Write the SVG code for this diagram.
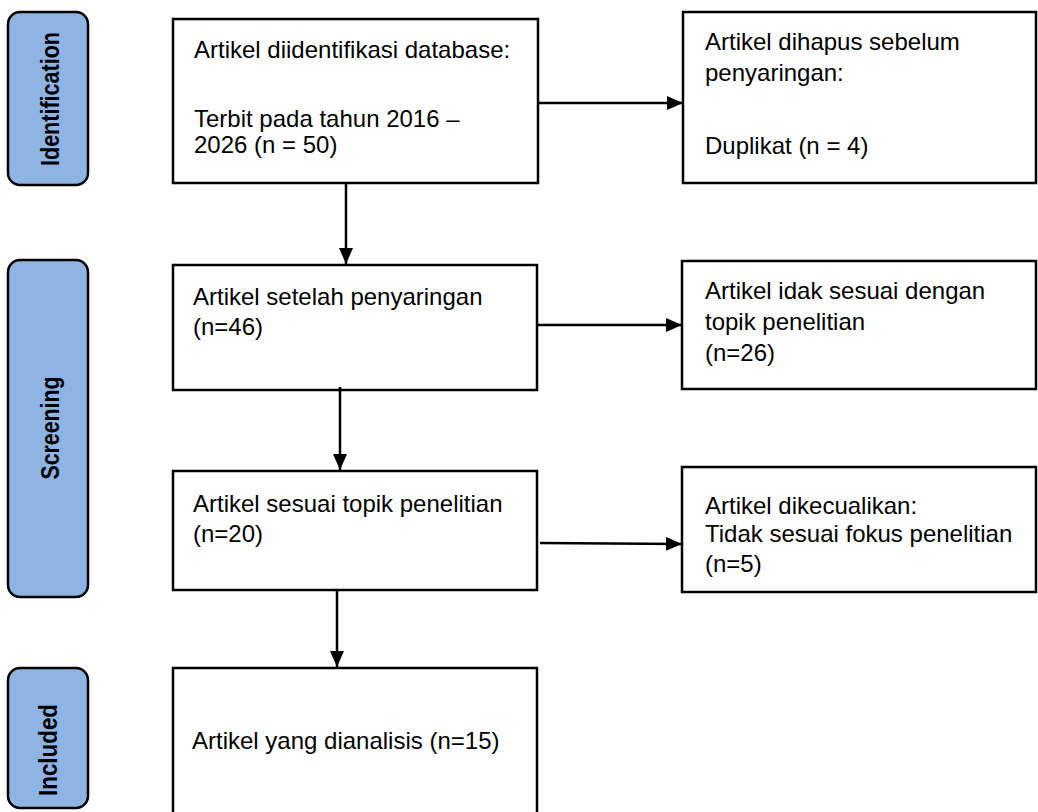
<svg xmlns="http://www.w3.org/2000/svg" width="1038" height="812" viewBox="0 0 1038 812">
<style>
.phase{fill:#8EB4E3;stroke:#000;stroke-width:2.5}
.box{fill:#fff;stroke:#000;stroke-width:2.5}
.lbl{font-family:"Liberation Sans",Arial,sans-serif;font-weight:bold;font-size:26px;fill:#000;text-anchor:middle}
.t{font-family:"Liberation Sans",Arial,sans-serif;font-size:24px;fill:#000}
.c{stroke:#000;stroke-width:2.5;fill:none;marker-end:url(#ah)}
</style>
<defs>
<marker id="ah" markerWidth="16" markerHeight="14" refX="16" refY="7" orient="auto" markerUnits="userSpaceOnUse">
<path d="M0,0 L16,7 L0,14 Z" fill="#000"/>
</marker>
</defs>
<rect width="1038" height="812" fill="#fff"/>
<g id="phase-identification">
<rect class="phase" x="8" y="12" width="80" height="173" rx="12"/>
<text class="lbl" transform="translate(59,99) rotate(-90)" textLength="134" lengthAdjust="spacingAndGlyphs">Identification</text>
</g>
<g id="phase-screening">
<rect class="phase" x="8" y="260" width="80" height="337" rx="12"/>
<text class="lbl" transform="translate(59,428) rotate(-90)" textLength="103" lengthAdjust="spacingAndGlyphs">Screening</text>
</g>
<g id="phase-included">
<rect class="phase" x="8" y="668" width="80" height="140" rx="12"/>
<text class="lbl" transform="translate(57,750) rotate(-90)" textLength="92" lengthAdjust="spacingAndGlyphs">Included</text>
</g>
<g id="node-identified">
<rect class="box" x="173" y="19" width="365" height="164"/>
<text class="t" x="194" y="58">Artikel diidentifikasi database:</text>
<text class="t" x="194" y="127">Terbit pada tahun 2016 –</text>
<text class="t" x="194" y="153">2026 (n = 50)</text>
</g>
<g id="node-removed">
<rect class="box" x="683" y="12" width="353" height="171"/>
<text class="t" x="705" y="50">Artikel dihapus sebelum</text>
<text class="t" x="705" y="81">penyaringan:</text>
<text class="t" x="705" y="154">Duplikat (n = 4)</text>
</g>
<g id="node-screened">
<rect class="box" x="173" y="265" width="364" height="125"/>
<text class="t" x="193" y="305">Artikel setelah penyaringan</text>
<text class="t" x="193" y="335">(n=46)</text>
</g>
<g id="node-notrelevant">
<rect class="box" x="682" y="261" width="354" height="128"/>
<text class="t" x="705" y="299">Artikel idak sesuai dengan</text>
<text class="t" x="705" y="330">topik penelitian</text>
<text class="t" x="705" y="361">(n=26)</text>
</g>
<g id="node-relevant">
<rect class="box" x="173" y="471" width="364" height="119"/>
<text class="t" x="193" y="512">Artikel sesuai topik penelitian</text>
<text class="t" x="193" y="542">(n=20)</text>
</g>
<g id="node-excluded">
<rect class="box" x="682" y="467" width="354" height="125"/>
<text class="t" x="705" y="514">Artikel dikecualikan:</text>
<text class="t" x="705" y="542">Tidak sesuai fokus penelitian</text>
<text class="t" x="705" y="572">(n=5)</text>
</g>
<g id="node-included">
<rect class="box" x="173" y="668" width="364" height="150"/>
<text class="t" x="192" y="749">Artikel yang dianalisis (n=15)</text>
</g>
<g id="connectors">
<line class="c" x1="538" y1="103" x2="683" y2="103"/>
<line class="c" x1="346" y1="183" x2="346" y2="264"/>
<line class="c" x1="537" y1="325" x2="682" y2="325"/>
<line class="c" x1="340" y1="387" x2="340" y2="470"/>
<line class="c" x1="540" y1="543" x2="682" y2="544"/>
<line class="c" x1="337" y1="590" x2="337" y2="667"/>
</g>
</svg>
